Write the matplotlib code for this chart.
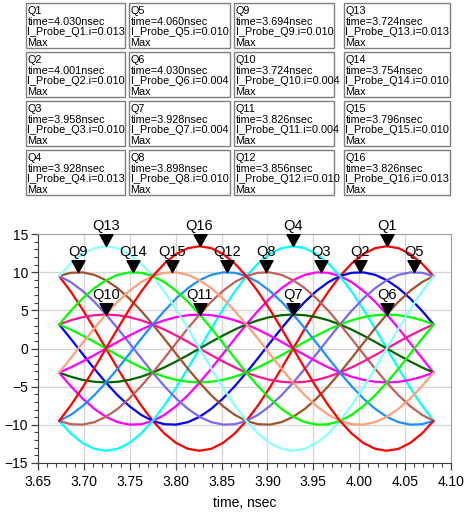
import matplotlib
matplotlib.use("Agg")
import matplotlib.pyplot as plt
from matplotlib.path import Path
from matplotlib.patches import Rectangle

plt.rcParams['font.family'] = ['Liberation Sans', 'DejaVu Sans']

# time axis, nsec
time_ns = [3.6730, 3.6858, 3.6985, 3.7113, 3.7240, 3.7368, 3.7495, 3.7623, 3.7750, 3.7878,
           3.8005, 3.8133, 3.8260, 3.8388, 3.8515, 3.8643, 3.8770, 3.8898, 3.9025, 3.9153,
           3.9280, 3.9408, 3.9535, 3.9663, 3.9790, 3.9918, 4.0045, 4.0173, 4.0300, 4.0428,
           4.0555, 4.0683, 4.0810]

# probe currents (mA)
q1 = [9.48, 7.44, 5.13, 2.61, 0, -2.61, -5.13, -7.44, -9.48, -11.14, -12.38, -13.14, -13.40, -13.14, -12.38, -11.14, -9.48,
      -7.44, -5.13, -2.61, 0, 2.61, 5.13, 7.44, 9.48, 11.14, 12.38, 13.14, 13.40, 13.14, 12.38, 11.14, 9.48]
q2 = [3.16, 1.25, -0.71, -2.64, -4.47, -6.13, -7.55, -8.69, -9.49, -9.92, -9.97, -9.65, -8.95, -7.90, -6.55, -4.95, -3.16,
      -1.25, 0.71, 2.64, 4.47, 6.13, 7.55, 8.69, 9.49, 9.92, 9.97, 9.65, 8.95, 7.90, 6.55, 4.95, 3.16]
q3 = [-3.16, -4.95, -6.55, -7.90, -8.95, -9.65, -9.97, -9.92, -9.49, -8.69, -7.55, -6.13, -4.47, -2.64, -0.71, 1.25, 3.16,
      4.95, 6.55, 7.90, 8.95, 9.65, 9.97, 9.92, 9.49, 8.69, 7.55, 6.13, 4.47, 2.64, 0.71, -1.25, -3.16]
q4 = [-9.48, -11.14, -12.38, -13.14, -13.40, -13.14, -12.38, -11.14, -9.48, -7.44, -5.13, -2.61, 0, 2.61, 5.13, 7.44, 9.48,
      11.14, 12.38, 13.14, 13.40, 13.14, 12.38, 11.14, 9.48, 7.44, 5.13, 2.61, 0, -2.61, -5.13, -7.44, -9.48]
q5 = [9.49, 8.69, 7.55, 6.13, 4.47, 2.64, 0.71, -1.25, -3.16, -4.95, -6.55, -7.90, -8.95, -9.65, -9.97, -9.92, -9.49,
      -8.69, -7.55, -6.13, -4.47, -2.64, -0.71, 1.25, 3.16, 4.95, 6.55, 7.90, 8.95, 9.65, 9.97, 9.92, 9.49]
q6 = [3.15, 2.47, 1.70, 0.87, 0, -0.87, -1.70, -2.47, -3.15, -3.70, -4.11, -4.36, -4.45, -4.36, -4.11, -3.70, -3.15,
      -2.47, -1.70, -0.87, 0, 0.87, 1.70, 2.47, 3.15, 3.70, 4.11, 4.36, 4.45, 4.36, 4.11, 3.70, 3.15]
q7 = [-3.15, -3.70, -4.11, -4.36, -4.45, -4.36, -4.11, -3.70, -3.15, -2.47, -1.70, -0.87, 0, 0.87, 1.70, 2.47, 3.15,
      3.70, 4.11, 4.36, 4.45, 4.36, 4.11, 3.70, 3.15, 2.47, 1.70, 0.87, 0, -0.87, -1.70, -2.47, -3.15]
q8 = [-9.49, -9.92, -9.97, -9.65, -8.95, -7.90, -6.55, -4.95, -3.16, -1.25, 0.71, 2.64, 4.47, 6.13, 7.55, 8.69, 9.49,
      9.92, 9.97, 9.65, 8.95, 7.90, 6.55, 4.95, 3.16, 1.25, -0.71, -2.64, -4.47, -6.13, -7.55, -8.69, -9.49]
q9 = [9.49, 9.92, 9.97, 9.65, 8.95, 7.90, 6.55, 4.95, 3.16, 1.25, -0.71, -2.64, -4.47, -6.13, -7.55, -8.69, -9.49,
      -9.92, -9.97, -9.65, -8.95, -7.90, -6.55, -4.95, -3.16, -1.25, 0.71, 2.64, 4.47, 6.13, 7.55, 8.69, 9.49]
q10 = [3.15, 3.70, 4.11, 4.36, 4.45, 4.36, 4.11, 3.70, 3.15, 2.47, 1.70, 0.87, 0, -0.87, -1.70, -2.47, -3.15,
       -3.70, -4.11, -4.36, -4.45, -4.36, -4.11, -3.70, -3.15, -2.47, -1.70, -0.87, 0, 0.87, 1.70, 2.47, 3.15]
q11 = [-3.15, -2.47, -1.70, -0.87, 0, 0.87, 1.70, 2.47, 3.15, 3.70, 4.11, 4.36, 4.45, 4.36, 4.11, 3.70, 3.15,
       2.47, 1.70, 0.87, 0, -0.87, -1.70, -2.47, -3.15, -3.70, -4.11, -4.36, -4.45, -4.36, -4.11, -3.70, -3.15]
q12 = [-9.49, -8.69, -7.55, -6.13, -4.47, -2.64, -0.71, 1.25, 3.16, 4.95, 6.55, 7.90, 8.95, 9.65, 9.97, 9.92, 9.49,
       8.69, 7.55, 6.13, 4.47, 2.64, 0.71, -1.25, -3.16, -4.95, -6.55, -7.90, -8.95, -9.65, -9.97, -9.92, -9.49]
q13 = [9.48, 11.14, 12.38, 13.14, 13.40, 13.14, 12.38, 11.14, 9.48, 7.44, 5.13, 2.61, 0, -2.61, -5.13, -7.44, -9.48,
       -11.14, -12.38, -13.14, -13.40, -13.14, -12.38, -11.14, -9.48, -7.44, -5.13, -2.61, 0, 2.61, 5.13, 7.44, 9.48]
q14 = [3.16, 4.95, 6.55, 7.90, 8.95, 9.65, 9.97, 9.92, 9.49, 8.69, 7.55, 6.13, 4.47, 2.64, 0.71, -1.25, -3.16,
       -4.95, -6.55, -7.90, -8.95, -9.65, -9.97, -9.92, -9.49, -8.69, -7.55, -6.13, -4.47, -2.64, -0.71, 1.25, 3.16]
q15 = [-3.16, -1.25, 0.71, 2.64, 4.47, 6.13, 7.55, 8.69, 9.49, 9.92, 9.97, 9.65, 8.95, 7.90, 6.55, 4.95, 3.16,
       1.25, -0.71, -2.64, -4.47, -6.13, -7.55, -8.69, -9.49, -9.92, -9.97, -9.65, -8.95, -7.90, -6.55, -4.95, -3.16]
q16 = [-9.48, -7.44, -5.13, -2.61, 0, 2.61, 5.13, 7.44, 9.48, 11.14, 12.38, 13.14, 13.40, 13.14, 12.38, 11.14, 9.48,
       7.44, 5.13, 2.61, 0, -2.61, -5.13, -7.44, -9.48, -11.14, -12.38, -13.14, -13.40, -13.14, -12.38, -11.14, -9.48]

series = [q1, q2, q3, q4, q5, q6, q7, q8, q9, q10, q11, q12, q13, q14, q15, q16]
colors = ['#FF0000', '#0000FF', '#FF00FF', '#00FFFF', '#7B68EE', '#00FF00', '#006400', '#C0605A',
          '#A0522D', '#FF1493', '#FF00FF', '#1E90FF', '#88FFFF', '#00FF00', '#FFA07A', '#FF0000']

# marker readouts (Max)
marker_names = ['Q%d' % i for i in range(1, 17)]
marker_time = [4.030, 4.001, 3.958, 3.928, 4.060, 4.030, 3.928, 3.898,
               3.694, 3.724, 3.826, 3.856, 3.724, 3.754, 3.796, 3.826]
marker_i = ['0.013', '0.010', '0.010', '0.013', '0.010', '0.004', '0.004', '0.010',
            '0.010', '0.004', '0.004', '0.010', '0.013', '0.010', '0.010', '0.013']
marker_y = [13.4, 10, 10, 13.4, 10, 4.45, 4.45, 10, 10, 4.45, 4.45, 10, 13.4, 10, 10, 13.4]

W, H = 467, 513
fig = plt.figure(figsize=(W / 100, H / 100), dpi=100)

# marker readout boxes, 4 columns x 4 rows (pixel coords)
col_x = [(26, 125), (129, 230), (234, 334), (344, 450)]
row_y = [(3, 48), (52, 97), (101, 146), (150, 195)]
for n in range(16):
    c, r = n // 4, n % 4
    x0, x1 = col_x[c]
    y0, y1 = row_y[r]
    fig.patches.append(Rectangle((x0 / W, 1 - y1 / H), (x1 - x0) / W, (y1 - y0) / H,
                                 transform=fig.transFigure, fill=False, edgecolor='#7F7F7F', lw=1.0))
    lines = [marker_names[n], 'time=%.3fnsec' % marker_time[n],
             'I_Probe_%s.i=%s' % (marker_names[n], marker_i[n]), 'Max']
    for j, s in enumerate(lines):
        fig.text((x0 + 1.5) / W, 1 - (y0 + 11 + j * 10.6) / H, s, fontsize=7.8,
                 ha='left', va='baseline', color='black')

ax = fig.add_axes([38 / W, 50 / H, 413 / W, 229 / H])
for s, col in zip(series, colors):
    ax.plot(time_ns, s, color=col, lw=1.6, solid_capstyle='round', zorder=3)

tri = Path([(0, 0), (-0.55, 1), (0.55, 1), (0, 0)], [Path.MOVETO, Path.LINETO, Path.LINETO, Path.CLOSEPOLY])
for name, t, v in zip(marker_names, marker_time, marker_y):
    ax.plot([t], [v], marker=tri, ms=17, color='black', mec='black', zorder=5, clip_on=False)
    ax.annotate(name, (t, v), xytext=(0, 9.2), textcoords='offset points', ha='center',
                va='bottom', fontsize=10.5, zorder=6, annotation_clip=False)

ax.set_xlim(3.65, 4.10)
ax.set_ylim(-15, 15)
ax.set_xticks([3.65, 3.70, 3.75, 3.80, 3.85, 3.90, 3.95, 4.00, 4.05, 4.10])
ax.set_xticklabels(['%.2f' % v for v in ax.get_xticks()])
ax.set_yticks([-15, -10, -5, 0, 5, 10, 15])
ax.set_xticks([3.65 + 0.01 * i for i in range(46)], minor=True)
ax.set_yticks(list(range(-15, 16)), minor=True)
ax.grid(True, which='major', color='#D4D4D4', lw=0.9, zorder=0)
ax.tick_params(which='major', direction='out', length=5, width=0.9, color='#404040',
               labelsize=10, pad=2)
ax.tick_params(which='minor', direction='out', length=3, width=0.8, color='#404040')
ax.tick_params(axis='x', pad=4)
for side in ['top', 'right']:
    ax.spines[side].set_color('#A0A0A0')
for side in ['left', 'bottom']:
    ax.spines[side].set_color('#404040')
ax.set_xlabel('time, nsec', fontsize=10, labelpad=5)

fig.savefig('out.png', dpi=100)
